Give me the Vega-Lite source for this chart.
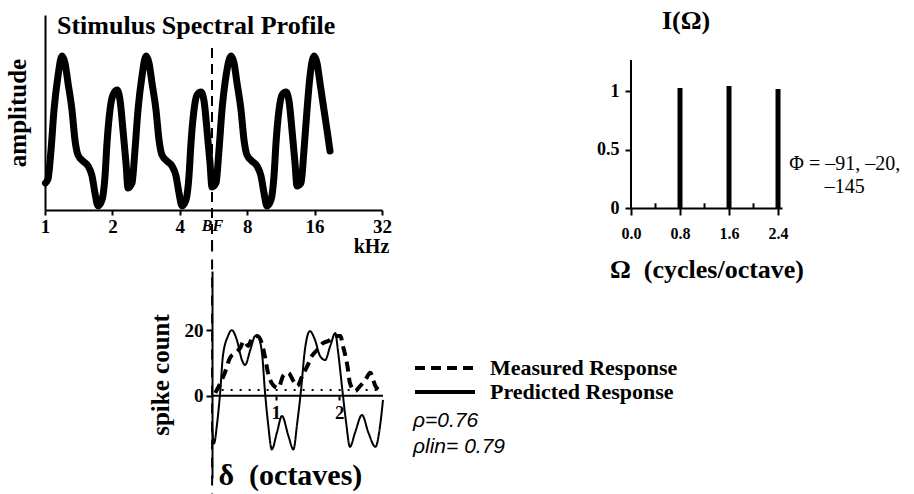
{
  "$schema": "https://vega.github.io/schema/vega-lite/v6.json",
  "padding": {"left": 5, "top": 8, "right": 0, "bottom": 0},
  "bounds": "flush",
  "columns": 2,
  "align": "each",
  "spacing": {"row": 61, "column": 248},
  "config": {
    "font": "Liberation Serif",
    "view": {"stroke": null},
    "axis": {"domainColor": "black", "domainWidth": 2, "tickColor": "black", "tickWidth": 2, "labelColor": "black", "titleColor": "black", "labelFontWeight": "bold", "titleFontWeight": "bold", "grid": false, "labelFont": "Liberation Serif", "titleFont": "Liberation Serif"},
    "title": {"color": "black", "font": "Liberation Serif"}
  },
  "concat": [
    {
      "width": 337,
      "height": 195,
      "title": {"text": "Stimulus Spectral Profile", "anchor": "start", "dx": 12, "offset": -45, "fontSize": 26, "fontWeight": "bold", "baseline": "alphabetic", "frame": "group"},
      "layer": [
        {
          "data": {"values": [
            {"f":1.005,"amp":0.175},{"f":1.031,"amp":0.201},{"f":1.064,"amp":0.390},{"f":1.097,"amp":0.649},{"f":1.143,"amp":0.870},{"f":1.191,"amp":1.000},{"f":1.228,"amp":0.955},{"f":1.267,"amp":0.825},{"f":1.320,"amp":0.649},{"f":1.361,"amp":0.455},{"f":1.404,"amp":0.357},{"f":1.478,"amp":0.318},{"f":1.556,"amp":0.286},{"f":1.622,"amp":0.221},{"f":1.672,"amp":0.110},{"f":1.725,"amp":0.026},{"f":1.797,"amp":0.065},{"f":1.854,"amp":0.221},{"f":1.892,"amp":0.435},{"f":1.951,"amp":0.649},{"f":2.012,"amp":0.747},{"f":2.097,"amp":0.779},{"f":2.163,"amp":0.714},{"f":2.230,"amp":0.519},{"f":2.300,"amp":0.305},{"f":2.348,"amp":0.143},{"f":2.447,"amp":0.175},{"f":2.523,"amp":0.390},{"f":2.602,"amp":0.649},{"f":2.712,"amp":0.870},{"f":2.826,"amp":1.000},{"f":2.914,"amp":0.955},{"f":3.005,"amp":0.825},{"f":3.132,"amp":0.649},{"f":3.230,"amp":0.455},{"f":3.331,"amp":0.357},{"f":3.507,"amp":0.318},{"f":3.692,"amp":0.286},{"f":3.847,"amp":0.221},{"f":3.967,"amp":0.110},{"f":4.092,"amp":0.026},{"f":4.263,"amp":0.065},{"f":4.397,"amp":0.221},{"f":4.488,"amp":0.435},{"f":4.629,"amp":0.649},{"f":4.774,"amp":0.747},{"f":4.975,"amp":0.766},{"f":5.131,"amp":0.708},{"f":5.291,"amp":0.519},{"f":5.457,"amp":0.305},{"f":5.570,"amp":0.149},{"f":5.804,"amp":0.175},{"f":5.986,"amp":0.390},{"f":6.174,"amp":0.649},{"f":6.433,"amp":0.870},{"f":6.773,"amp":1.000},{"f":6.985,"amp":0.955},{"f":7.204,"amp":0.825},{"f":7.507,"amp":0.649},{"f":7.742,"amp":0.455},{"f":7.984,"amp":0.357},{"f":8.405,"amp":0.318},{"f":8.849,"amp":0.286},{"f":9.220,"amp":0.221},{"f":9.509,"amp":0.110},{"f":9.807,"amp":0.026},{"f":10.219,"amp":0.065},{"f":10.539,"amp":0.221},{"f":10.758,"amp":0.435},{"f":11.095,"amp":0.649},{"f":11.443,"amp":0.747},{"f":11.923,"amp":0.766},{"f":12.297,"amp":0.708},{"f":12.682,"amp":0.519},{"f":13.080,"amp":0.305},{"f":13.351,"amp":0.156},{"f":13.912,"amp":0.175},{"f":14.348,"amp":0.390},{"f":14.798,"amp":0.649},{"f":15.262,"amp":0.870},{"f":15.902,"amp":1.000},{"f":16.400,"amp":0.955},{"f":16.914,"amp":0.825},{"f":17.625,"amp":0.649},{"f":18.177,"amp":0.519},{"f":18.747,"amp":0.383}
          ]},
          "mark": {"type": "line", "color": "black", "strokeWidth": 7, "interpolate": "monotone", "strokeCap": "round", "strokeJoin": "round"},
          "encoding": {
            "x": {"field": "f", "type": "quantitative", "scale": {"type": "log", "base": 2, "domain": [1, 32], "nice": false},
              "axis": {"values": [1, 2, 4, 5.57, 8, 16, 32], "format": "~g", "labelExpr": "datum.value > 5 && datum.value < 6 ? 'BF' : datum.label", "labelOverlap": false, "labelFlush": false, "labelBound": false, "labelFontSize": {"condition": {"test": "datum.value > 5 && datum.value < 6", "value": 16}, "value": 19}, "labelFontStyle": {"condition": {"test": "datum.value > 5 && datum.value < 6", "value": "italic"}, "value": "normal"}, "tickOpacity": {"condition": {"test": "datum.value > 5 && datum.value < 6", "value": 0}, "value": 1}, "tickSize": 5, "labelPadding": 2, "title": "kHz", "titleFontSize": 20, "titleX": 326, "titleY": 36, "titleAlign": "center", "titleBaseline": "middle"}},
            "y": {"field": "amp", "type": "quantitative", "scale": {"domain": [0, 1.266], "nice": false, "zero": false},
              "axis": {"title": "amplitude", "ticks": false, "labels": false, "titleFontSize": 25, "titlePadding": 15}}
          }
        },
        {
          "data": {"values": [{}]},
          "mark": {"type": "rule", "color": "black", "strokeWidth": 2, "strokeDash": [10, 6]},
          "encoding": {"x": {"datum": 5.57}, "y": {"datum": 1.052}, "y2": {"datum": -0.28}}
        }
      ]
    },
    {
      "width": 151,
      "height": 193,
      "title": {"text": "I(Ω)", "anchor": "start", "dx": 31, "offset": -40, "fontSize": 26, "fontWeight": "bold", "baseline": "alphabetic", "frame": "group"},
      "layer": [
        {
          "data": {"values": [{"omega": 0.8, "I": 1.026}, {"omega": 1.6, "I": 1.043}, {"omega": 2.4, "I": 1.017}]},
          "mark": {"type": "rule", "color": "black", "strokeWidth": 5},
          "encoding": {
            "x": {"field": "omega", "type": "quantitative", "scale": {"domain": [0, 2.465], "nice": false, "zero": false},
              "axis": {"values": [0, 0.8, 1.6, 2.4], "format": ".1f", "labelFontSize": 16, "tickSize": 7, "labelPadding": 10, "labelFlush": false, "title": "Ω\u00a0\u00a0(cycles/octave)", "titleFontSize": 26, "titlePadding": 15}},
            "y": {"field": "I", "type": "quantitative", "scale": {"domain": [0, 1.65], "nice": false, "zero": false},
              "axis": {"values": [0, 0.5, 1], "format": "~g", "domain": false, "tickSize": 6, "labelFontSize": 18, "labelPadding": 6, "title": null}},
            "y2": {"datum": 0}
          }
        },
        {
          "data": {"values": [{"omega": 0.4}, {"omega": 1.2}, {"omega": 2.0}]},
          "mark": {"type": "rule", "color": "black", "strokeWidth": 2},
          "encoding": {"x": {"field": "omega", "type": "quantitative"}, "y": {"datum": 0}, "y2": {"datum": 0.04}}
        },
        {
          "data": {"values": [{}]},
          "mark": {"type": "rule", "color": "black", "strokeWidth": 2},
          "encoding": {"x": {"datum": 0}, "y": {"datum": 0}, "y2": {"datum": 1.265}}
        },
        {
          "data": {"values": [{}]},
          "mark": {"type": "text", "text": ["Φ = –91, –20,", "–145"], "fontSize": 20, "lineHeight": 23, "align": "center", "baseline": "middle", "font": "Liberation Serif", "color": "black"},
          "encoding": {"x": {"datum": 3.49}, "y": {"datum": 0.38}}
        }
      ]
    },
    {
      "width": 338,
      "height": 207,
      "data": {"values": [
        {"series":"Predicted Response","delta":0.00,"count":-9.7},{"series":"Predicted Response","delta":0.03,"count":-14.5},{"series":"Predicted Response","delta":0.08,"count":-8.2},{"series":"Predicted Response","delta":0.13,"count":1.8},{"series":"Predicted Response","delta":0.17,"count":12.1},{"series":"Predicted Response","delta":0.25,"count":18.2},{"series":"Predicted Response","delta":0.31,"count":20.0},{"series":"Predicted Response","delta":0.39,"count":17.0},{"series":"Predicted Response","delta":0.47,"count":10.9},{"series":"Predicted Response","delta":0.52,"count":9.4},{"series":"Predicted Response","delta":0.60,"count":13.9},{"series":"Predicted Response","delta":0.68,"count":18.2},{"series":"Predicted Response","delta":0.72,"count":18.2},{"series":"Predicted Response","delta":0.79,"count":12.1},{"series":"Predicted Response","delta":0.83,"count":1.8},{"series":"Predicted Response","delta":0.88,"count":-8.2},{"series":"Predicted Response","delta":0.94,"count":-16.3},{"series":"Predicted Response","delta":1.02,"count":-11.2},{"series":"Predicted Response","delta":1.10,"count":-6.1},{"series":"Predicted Response","delta":1.20,"count":-12.1},{"series":"Predicted Response","delta":1.28,"count":-16.3},{"series":"Predicted Response","delta":1.34,"count":-8.2},{"series":"Predicted Response","delta":1.40,"count":1.8},{"series":"Predicted Response","delta":1.46,"count":13.9},{"series":"Predicted Response","delta":1.54,"count":19.7},{"series":"Predicted Response","delta":1.62,"count":17.0},{"series":"Predicted Response","delta":1.70,"count":12.1},{"series":"Predicted Response","delta":1.78,"count":10.9},{"series":"Predicted Response","delta":1.86,"count":15.2},{"series":"Predicted Response","delta":1.94,"count":19.1},{"series":"Predicted Response","delta":1.98,"count":13.9},{"series":"Predicted Response","delta":2.05,"count":1.8},{"series":"Predicted Response","delta":2.11,"count":-8.2},{"series":"Predicted Response","delta":2.17,"count":-15.5},{"series":"Predicted Response","delta":2.25,"count":-11.2},{"series":"Predicted Response","delta":2.36,"count":-5.8},{"series":"Predicted Response","delta":2.46,"count":-11.2},{"series":"Predicted Response","delta":2.57,"count":-15.5},{"series":"Predicted Response","delta":2.65,"count":-8.2},{"series":"Predicted Response","delta":2.69,"count":-1.2},
        {"series":"Measured Response","delta":0.05,"count":0.9},{"series":"Measured Response","delta":0.13,"count":3.9},{"series":"Measured Response","delta":0.20,"count":7.0},{"series":"Measured Response","delta":0.28,"count":11.5},{"series":"Measured Response","delta":0.36,"count":13.0},{"series":"Measured Response","delta":0.44,"count":14.5},{"series":"Measured Response","delta":0.50,"count":16.7},{"series":"Measured Response","delta":0.57,"count":15.2},{"series":"Measured Response","delta":0.63,"count":17.6},{"series":"Measured Response","delta":0.71,"count":18.2},{"series":"Measured Response","delta":0.79,"count":15.5},{"series":"Measured Response","delta":0.83,"count":12.1},{"series":"Measured Response","delta":0.88,"count":7.0},{"series":"Measured Response","delta":0.96,"count":3.3},{"series":"Measured Response","delta":1.04,"count":2.4},{"series":"Measured Response","delta":1.12,"count":6.1},{"series":"Measured Response","delta":1.20,"count":7.0},{"series":"Measured Response","delta":1.28,"count":4.5},{"series":"Measured Response","delta":1.34,"count":3.0},{"series":"Measured Response","delta":1.42,"count":6.1},{"series":"Measured Response","delta":1.50,"count":9.1},{"series":"Measured Response","delta":1.57,"count":12.1},{"series":"Measured Response","delta":1.65,"count":13.9},{"series":"Measured Response","delta":1.75,"count":16.1},{"series":"Measured Response","delta":1.83,"count":16.7},{"series":"Measured Response","delta":1.94,"count":18.2},{"series":"Measured Response","delta":2.02,"count":18.2},{"series":"Measured Response","delta":2.06,"count":15.2},{"series":"Measured Response","delta":2.13,"count":9.1},{"series":"Measured Response","delta":2.17,"count":3.9},{"series":"Measured Response","delta":2.25,"count":1.5},{"series":"Measured Response","delta":2.33,"count":3.0},{"series":"Measured Response","delta":2.41,"count":4.8},{"series":"Measured Response","delta":2.49,"count":7.0},{"series":"Measured Response","delta":2.57,"count":3.0},{"series":"Measured Response","delta":2.65,"count":1.5}
      ]},
      "layer": [
        {
          "transform": [{"filter": "datum.series == 'Measured Response'"}],
          "mark": {"type": "line", "color": "black", "strokeWidth": 4, "interpolate": "monotone"},
          "encoding": {
            "x": {"field": "delta", "type": "quantitative", "scale": {"domain": [-2.63, 2.69], "nice": false, "zero": false},
              "axis": {"values": [1, 2], "format": "d", "offset": -82, "domain": false, "tickSize": 4, "labelFontSize": 19, "labelPadding": 3, "labelFlush": false, "title": "δ\u00a0\u00a0(octaves)", "titleFontSize": 30, "titleX": 173, "titleY": 88, "titleAlign": "left", "titleBaseline": "alphabetic"}},
            "y": {"field": "count", "type": "quantitative", "scale": {"domain": [-25, 38], "nice": false, "zero": false},
              "axis": {"values": [0, 20], "offset": -167, "tickSize": 6, "labelFontSize": 19, "labelPadding": 3, "title": "spike count", "titleFontSize": 25, "titlePadding": 11}},
            "strokeDash": {"field": "series", "type": "nominal", "scale": {"domain": ["Measured Response", "Predicted Response"], "range": [[10, 6], [1, 0]]},
              "legend": {"title": ["ρ=0.76", "ρlin= 0.79"], "orient": "none", "legendX": 368, "legendY": 346, "titleOrient": "bottom", "titleAnchor": "start", "titleAlign": "left", "titleFont": "Liberation Sans", "titleFontStyle": "italic", "titleFontWeight": "normal", "titleFontSize": 21, "titleLineHeight": 26, "titlePadding": 7, "titleColor": "black", "symbolType": "stroke", "symbolSize": 3600, "symbolStrokeWidth": 4, "symbolStrokeColor": "black", "clipHeight": 14, "labelFont": "Liberation Serif", "labelFontWeight": "bold", "labelFontSize": 22, "labelOffset": 13, "labelColor": "black", "labelLimit": 400, "rowPadding": 2, "padding": 0}}
          }
        },
        {
          "transform": [{"filter": "datum.series == 'Predicted Response'"}],
          "mark": {"type": "line", "color": "black", "strokeWidth": 2, "interpolate": "monotone"},
          "encoding": {
            "x": {"field": "delta", "type": "quantitative"},
            "y": {"field": "count", "type": "quantitative"},
            "strokeDash": {"field": "series", "type": "nominal"}
          }
        },
        {
          "data": {"values": [{}]},
          "mark": {"type": "rule", "color": "black", "strokeWidth": 2, "strokeDash": [10, 8]},
          "encoding": {"x": {"datum": 0}, "y": {"datum": 47}, "y2": {"datum": -31}}
        },
        {
          "data": {"values": [{}]},
          "mark": {"type": "rule", "color": "black", "strokeWidth": 2},
          "encoding": {"x": {"datum": 0}, "x2": {"datum": 2.69}, "y": {"datum": 0}}
        },
        {
          "data": {"values": [{}]},
          "mark": {"type": "rule", "color": "black", "strokeWidth": 2, "strokeDash": [2, 7]},
          "encoding": {"x": {"datum": 0.15}, "x2": {"datum": 2.65}, "y": {"datum": 1.8}}
        }
      ]
    }
  ]
}
